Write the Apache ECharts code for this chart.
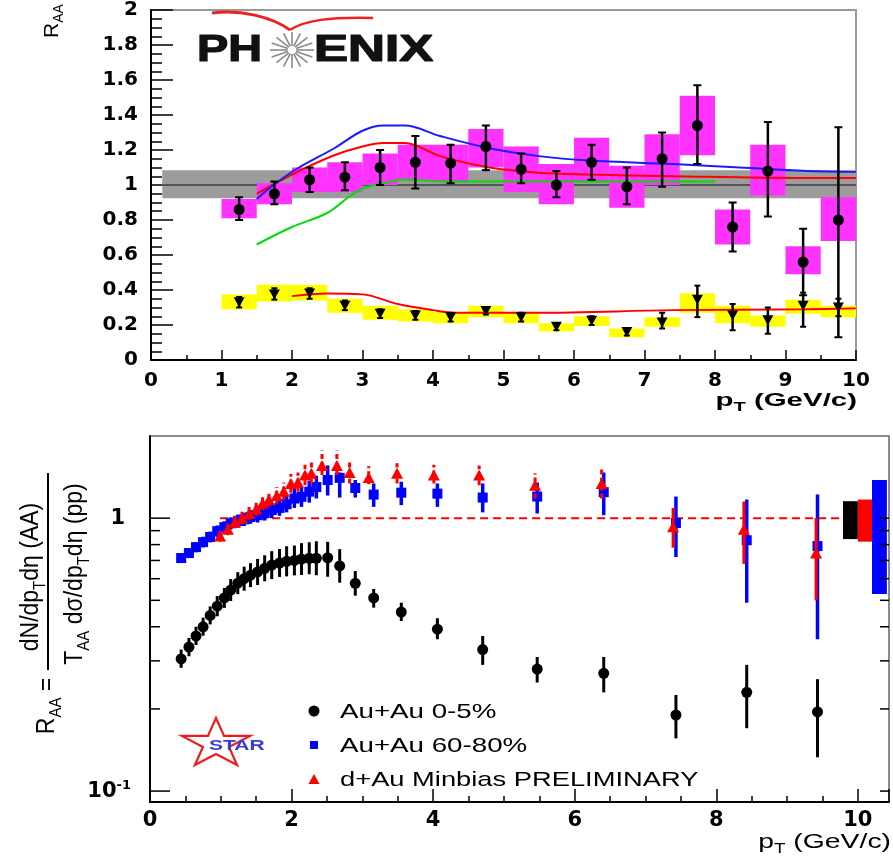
<!DOCTYPE html>
<html>
<head>
<meta charset="utf-8">
<script src="https://cdn.jsdelivr.net/npm/echarts@6/dist/echarts.min.js"></script>
<style>
  html, body { margin: 0; padding: 0; background: #fff; }
  #chart { width: 893px; height: 865px; }
</style>
</head>
<body>
<div id="chart"></div>
<script>
// ================= PHENIX panel: R_AA vs pT (linear) =================
const phxPt = [1.25, 1.75, 2.25, 2.75, 3.25, 3.75, 4.25, 4.75, 5.25, 5.75, 6.25, 6.75, 7.25, 7.75, 8.25, 8.75, 9.25, 9.75];
const phxBinHalf = 0.25;

// upper set (circles, magenta systematic boxes)
const phxHiVal   = [0.86, 0.95, 1.03, 1.045, 1.10, 1.13, 1.125, 1.22, 1.09, 1.00, 1.13, 0.99, 1.15, 1.34, 0.76, 1.08, 0.56, 0.80];
const phxHiErrLo = [0.80, 0.89, 0.96, 0.97, 1.00, 0.98, 1.01, 1.085, 1.01, 0.93, 1.03, 0.89, 0.99, 1.12, 0.62, 0.82, 0.37, 0.13];
const phxHiErrUp = [0.93, 1.02, 1.10, 1.13, 1.20, 1.28, 1.23, 1.34, 1.18, 1.08, 1.23, 1.10, 1.30, 1.57, 0.90, 1.36, 0.75, 1.33];
const phxHiSysLo = [0.81, 0.89, 0.96, 0.96, 1.00, 1.03, 1.02, 1.10, 0.96, 0.89, 1.02, 0.87, 1.00, 1.17, 0.66, 0.94, 0.49, 0.68];
const phxHiSysUp = [0.92, 1.01, 1.10, 1.13, 1.18, 1.23, 1.23, 1.32, 1.22, 1.12, 1.27, 1.11, 1.29, 1.51, 0.86, 1.23, 0.65, 0.93];

// lower set (down triangles, yellow systematic boxes)
const phxLoVal   = [0.33, 0.375, 0.38, 0.31, 0.265, 0.255, 0.245, 0.28, 0.245, 0.19, 0.225, 0.16, 0.215, 0.345, 0.255, 0.227, 0.31, 0.30];
const phxLoErrLo = [0.30, 0.345, 0.35, 0.285, 0.24, 0.23, 0.22, 0.26, 0.22, 0.17, 0.20, 0.14, 0.18, 0.245, 0.17, 0.15, 0.19, 0.25];
const phxLoErrUp = [0.36, 0.41, 0.41, 0.34, 0.29, 0.28, 0.27, 0.30, 0.27, 0.21, 0.25, 0.18, 0.27, 0.425, 0.32, 0.30, 0.385, 0.35];
const phxLoSysLo = [0.29, 0.335, 0.34, 0.27, 0.23, 0.22, 0.21, 0.245, 0.21, 0.165, 0.195, 0.13, 0.19, 0.27, 0.21, 0.19, 0.265, 0.245];
const phxLoSysUp = [0.375, 0.43, 0.43, 0.35, 0.31, 0.29, 0.275, 0.31, 0.275, 0.21, 0.25, 0.18, 0.245, 0.38, 0.31, 0.255, 0.345, 0.31];

// normalisation band around unity
const phxBandX = [0.16, 10];
const phxBandY = [0.925, 1.085];

// model curves
const curveBluePt  = [1.5, 1.77, 2.1, 2.6, 3.0, 3.3, 3.6, 4.1, 4.8, 5.5, 6.2, 7.4, 8.35, 9.3, 10];
const curveBlueVal = [0.92, 1.01, 1.10, 1.21, 1.31, 1.34, 1.34, 1.28, 1.21, 1.165, 1.14, 1.12, 1.10, 1.08, 1.075];
const curveRedPt   = [1.5, 1.77, 2.1, 2.6, 3.0, 3.3, 3.6, 4.1, 4.8, 5.5, 6.2, 7.4, 9.3, 10];
const curveRedVal  = [0.95, 1.01, 1.08, 1.17, 1.22, 1.24, 1.24, 1.165, 1.10, 1.07, 1.06, 1.05, 1.04, 1.04];
const curveGreenPt  = [1.5, 2.0, 2.5, 2.8, 3.0, 3.3, 3.6, 4.2, 5.0, 6.0, 7.0, 8.0];
const curveGreenVal = [0.66, 0.76, 0.84, 0.93, 0.98, 1.01, 1.03, 1.02, 1.02, 1.02, 1.02, 1.02];
const curveLowPt  = [2.0, 2.5, 3.0, 3.5, 4.0, 4.3, 5.5, 7.4, 9.3, 10];
const curveLowVal = [0.365, 0.38, 0.375, 0.32, 0.285, 0.27, 0.27, 0.285, 0.29, 0.295];

// ================= STAR panel: R_AA vs pT (log) =================
const starPt = [0.44, 0.55, 0.65, 0.75, 0.85, 0.95, 1.05, 1.14, 1.24, 1.33, 1.42, 1.52, 1.62, 1.72, 1.83, 1.93, 2.04, 2.14, 2.25, 2.35, 2.51, 2.68, 2.90, 3.16, 3.55, 4.06, 4.70, 5.47, 6.41, 7.43, 8.43, 9.43];

// Au+Au 0-5%
const central    = [0.305, 0.337, 0.37, 0.40, 0.44, 0.476, 0.51, 0.545, 0.578, 0.60, 0.618, 0.635, 0.655, 0.673, 0.685, 0.695, 0.70, 0.708, 0.713, 0.713, 0.716, 0.668, 0.577, 0.51, 0.453, 0.392, 0.33, 0.28, 0.27, 0.19, 0.23, 0.195];
const centralLo  = [0.283, 0.312, 0.343, 0.371, 0.408, 0.437, 0.469, 0.497, 0.527, 0.542, 0.559, 0.569, 0.587, 0.598, 0.609, 0.612, 0.617, 0.619, 0.623, 0.618, 0.61, 0.58, 0.52, 0.47, 0.42, 0.36, 0.29, 0.25, 0.23, 0.156, 0.17, 0.133];
const centralHi  = [0.33, 0.364, 0.40, 0.432, 0.475, 0.518, 0.555, 0.598, 0.634, 0.664, 0.684, 0.709, 0.731, 0.757, 0.771, 0.789, 0.794, 0.81, 0.816, 0.823, 0.819, 0.77, 0.64, 0.55, 0.49, 0.43, 0.37, 0.31, 0.31, 0.225, 0.29, 0.257];

// Au+Au 60-80%
const peripheral   = [0.714, 0.745, 0.783, 0.817, 0.853, 0.896, 0.927, 0.957, 0.975, 0.99, 1.01, 1.025, 1.043, 1.07, 1.09, 1.125, 1.18, 1.197, 1.25, 1.30, 1.38, 1.405, 1.29, 1.22, 1.24, 1.23, 1.19, 1.20, 1.245, 0.96, 0.83, 0.79];
const peripheralLo = [0.685, 0.714, 0.75, 0.781, 0.815, 0.854, 0.882, 0.909, 0.923, 0.936, 0.953, 0.964, 0.98, 1.0, 1.02, 1.05, 1.09, 1.10, 1.14, 1.18, 1.21, 1.19, 1.19, 1.10, 1.116, 1.10, 1.05, 1.04, 1.025, 0.72, 0.49, 0.36];
const peripheralHi = [0.745, 0.777, 0.817, 0.855, 0.893, 0.94, 0.974, 1.007, 1.03, 1.047, 1.07, 1.09, 1.11, 1.14, 1.165, 1.21, 1.28, 1.30, 1.37, 1.43, 1.56, 1.47, 1.38, 1.34, 1.36, 1.34, 1.34, 1.35, 1.47, 1.20, 1.17, 1.22];

// d+Au minimum bias
const dauPt = [0.99, 1.10, 1.20, 1.30, 1.40, 1.50, 1.59, 1.68, 1.79, 1.89, 1.99, 2.09, 2.19, 2.28, 2.43, 2.64, 2.82, 3.09, 3.49, 4.01, 4.65, 5.44, 6.38, 7.39, 8.39, 9.41];
const dau   = [0.86, 0.91, 0.967, 1.0, 1.04, 1.08, 1.135, 1.17, 1.21, 1.256, 1.34, 1.355, 1.44, 1.46, 1.56, 1.56, 1.47, 1.41, 1.46, 1.44, 1.44, 1.32, 1.34, 0.93, 0.91, 0.745];
const dauLo = [0.82, 0.865, 0.92, 0.95, 0.985, 1.02, 1.07, 1.10, 1.13, 1.17, 1.24, 1.25, 1.32, 1.34, 1.44, 1.44, 1.34, 1.33, 1.34, 1.34, 1.32, 1.18, 1.18, 0.78, 0.68, 0.50];
const dauHi = [0.90, 0.955, 1.02, 1.055, 1.10, 1.145, 1.21, 1.25, 1.30, 1.35, 1.45, 1.47, 1.57, 1.60, 1.77, 1.77, 1.63, 1.55, 1.59, 1.57, 1.56, 1.46, 1.52, 1.09, 1.15, 1.00];

// normalisation uncertainty boxes (0-5%, d+Au, 60-80%)
const normX0 = [9.79, 10.0, 10.2];
const normX1 = [10.0, 10.21, 10.41];
const normLo = [0.838, 0.82, 0.527];
const normHi = [1.154, 1.17, 1.38];

// unity reference line span
const unityPt = [0.99, 9.77];

// log-axis tick values drawn on both frame sides
const logTickVals = [0.1, 0.2, 0.3, 0.4, 0.5, 0.6, 0.7, 0.8, 0.9, 1];

// ================= helpers =================
const BLACK = '#000000', BLUE = '#0000ff', RED = '#ff0000';
const MAGENTA = '#ff33ff', YELLOW = '#ffff00';

function pairs(xs, ys) { return xs.map((x, i) => [x, ys[i]]); }

function boxSeries(grid, xs, lo, hi, half, color, z) {
  return {
    type: 'custom', xAxisIndex: grid, yAxisIndex: grid, z, silent: true,
    data: xs.map((x, i) => [x, lo[i], hi[i]]),
    encode: { x: 0, y: [1, 2] },
    renderItem(params, api) {
      const a = api.coord([api.value(0) - half, api.value(2)]);
      const b = api.coord([api.value(0) + half, api.value(1)]);
      return { type: 'rect', shape: { x: a[0], y: a[1], width: b[0] - a[0], height: b[1] - a[1] },
               style: { fill: color } };
    }
  };
}

function rangeBoxSeries(grid, x0, x1, lo, hi, colors, z) {
  return {
    type: 'custom', xAxisIndex: grid, yAxisIndex: grid, z, silent: true,
    data: x0.map((x, i) => [x, x1[i], lo[i], hi[i]]),
    encode: { x: [0, 1], y: [2, 3] },
    renderItem(params, api) {
      const a = api.coord([api.value(0), api.value(3)]);
      const b = api.coord([api.value(1), api.value(2)]);
      return { type: 'rect', shape: { x: a[0], y: a[1], width: b[0] - a[0], height: b[1] - a[1] },
               style: { fill: colors[params.dataIndex] } };
    }
  };
}

function errSeries(grid, xs, lo, hi, color, width, cap, dashBelow, z) {
  return {
    type: 'custom', xAxisIndex: grid, yAxisIndex: grid, z, silent: true,
    data: xs.map((x, i) => [x, lo[i], hi[i]]),
    encode: { x: 0, y: [1, 2] },
    renderItem(params, api) {
      const x = api.value(0);
      const p1 = api.coord([x, api.value(1)]);
      const p2 = api.coord([x, api.value(2)]);
      const dash = (dashBelow && x < dashBelow) ? [5, 3] : null;
      const st = { stroke: color, lineWidth: width, lineDash: dash };
      const kids = [{ type: 'line', shape: { x1: p1[0], y1: p1[1], x2: p2[0], y2: p2[1] }, style: st }];
      if (cap) {
        kids.push({ type: 'line', shape: { x1: p1[0] - cap, y1: p1[1], x2: p1[0] + cap, y2: p1[1] }, style: { stroke: color, lineWidth: 2 } });
        kids.push({ type: 'line', shape: { x1: p2[0] - cap, y1: p2[1], x2: p2[0] + cap, y2: p2[1] }, style: { stroke: color, lineWidth: 2 } });
      }
      return { type: 'group', children: kids };
    }
  };
}

function curve(xs, ys, color) {
  return {
    type: 'line', xAxisIndex: 0, yAxisIndex: 0, z: 4, silent: true,
    data: pairs(xs, ys), smooth: 0.35, showSymbol: false, symbol: 'none',
    lineStyle: { color, width: 2 }
  };
}

function marks(grid, xs, ys, symbol, size, color, rot, z) {
  return {
    type: 'scatter', xAxisIndex: grid, yAxisIndex: grid, z, silent: true,
    data: pairs(xs, ys), symbol, symbolSize: size, symbolRotate: rot || 0,
    itemStyle: { color, opacity: 1 }
  };
}

const tickFont = { fontFamily: 'DejaVu Sans', fontWeight: 'bold', color: '#000' };
const subRich = (main, weight) => ({
  m: { fontSize: main, lineHeight: Math.round(main * 1.35), fontFamily: 'Liberation Sans', fontWeight: weight, color: '#000', verticalAlign: 'middle' },
  s: { fontSize: Math.round(main * 0.66), lineHeight: Math.round(main * 0.66), fontFamily: 'Liberation Sans', fontWeight: weight, color: '#000', verticalAlign: 'bottom' }
});

// ================= decorations (logos, legend, titles) =================
function starPolygon(cx, cy, R, sx) {
  const pts = [];
  for (let k = 0; k < 10; k++) {
    const r = (k % 2 === 0) ? R : R * 0.382;
    const ang = -Math.PI / 2 + k * Math.PI / 5;
    pts.push([cx + r * Math.cos(ang) * sx, cy + r * Math.sin(ang)]);
  }
  return pts;
}

function starburst(cx, cy) {
  const out = [];
  for (let k = 0; k < 16; k++) {
    const a = k * Math.PI / 8;
    out.push({
      type: 'line', silent: true, z: 20,
      shape: { x1: cx + 4 * Math.cos(a) * 1.1, y1: cy + 4 * Math.sin(a), x2: cx + 20 * Math.cos(a) * 1.1, y2: cy + 18 * Math.sin(a) },
      style: { stroke: '#8a8a8a', lineWidth: 1.6 }
    });
  }
  return out;
}

const legendFont = '21px "Liberation Sans", Arial, sans-serif';

const graphics = [
  // PHENIX logo
  { type: 'bezierCurve', silent: true, z: 20,
    shape: { x1: 212, y1: 13, cpx1: 240, cpy1: 9, cpx2: 272, cpy2: 17, x2: 290, y2: 30 },
    style: { stroke: '#ee2020', lineWidth: 3, fill: null } },
  { type: 'bezierCurve', silent: true, z: 20,
    shape: { x1: 290, y1: 30, cpx1: 305, cpy1: 20, cpx2: 330, cpy2: 17, x2: 373, y2: 18 },
    style: { stroke: '#ee2020', lineWidth: 2.5, fill: null } },
  ...starburst(292, 50),
  { type: 'text', x: 262, y: 51, scaleX: 1.3, silent: true, z: 20,
    style: { text: 'PH', font: 'bold 36px "Liberation Sans", Arial, sans-serif', fill: '#111', align: 'right', verticalAlign: 'middle', stroke: '#111', lineWidth: 1.2 } },
  { type: 'text', x: 314, y: 51, scaleX: 1.42, silent: true, z: 20,
    style: { text: 'ENIX', font: 'bold 36px "Liberation Sans", Arial, sans-serif', fill: '#111', align: 'left', verticalAlign: 'middle', stroke: '#111', lineWidth: 1.2 } },

  // PHENIX axis titles
  { type: 'text', x: 52, y: 21, rotation: Math.PI / 2, silent: true, z: 20,
    style: { text: '{m|R}{s|AA}', rich: subRich(21, 'normal'), align: 'center', verticalAlign: 'middle' } },
  { type: 'text', x: 857, y: 401, scaleX: 1.55, silent: true, z: 20,
    style: { text: '{m|p}{s|T}{m| (GeV/c)}', rich: subRich(19, 'bold'), align: 'right', verticalAlign: 'middle' } },

  // STAR axis titles
  { type: 'text', x: 47, y: 706, rotation: Math.PI / 2, scaleY: 1.15, silent: true, z: 20,
    style: { text: '{m|R}{s|AA}{m| =}', rich: subRich(23, 'normal'), align: 'center', verticalAlign: 'middle' } },
  { type: 'text', x: 31, y: 577, rotation: Math.PI / 2, scaleY: 1.15, silent: true, z: 20,
    style: { text: '{m|dN/dp}{s|T}{m|dη (AA)}', rich: subRich(23, 'normal'), align: 'center', verticalAlign: 'middle' } },
  { type: 'line', silent: true, z: 20, shape: { x1: 48, y1: 473, x2: 48, y2: 670 }, style: { stroke: '#000', lineWidth: 2 } },
  { type: 'text', x: 75, y: 574, rotation: Math.PI / 2, scaleY: 1.15, silent: true, z: 20,
    style: { text: '{m|T}{s|AA}{m| dσ/dp}{s|T}{m|dη (pp)}', rich: subRich(23, 'normal'), align: 'center', verticalAlign: 'middle' } },
  { type: 'text', x: 891, y: 842, scaleX: 1.35, silent: true, z: 20,
    style: { text: '{m|p}{s|T}{m| (GeV/c)}', rich: subRich(21, 'normal'), align: 'right', verticalAlign: 'middle' } },

  // STAR logo
  { type: 'polygon', silent: true, z: 20,
    shape: { points: starPolygon(216, 744, 26, 1.38) },
    style: { fill: null, stroke: '#ee1c1c', lineWidth: 2.2 } },
  { type: 'text', x: 209, y: 746, scaleX: 1.5, silent: true, z: 21,
    style: { text: 'STAR', font: 'bold 14px "Liberation Sans", Arial, sans-serif', fill: '#3a3ad6', align: 'left', verticalAlign: 'middle' } },

  // legend
  { type: 'circle', silent: true, z: 20, shape: { cx: 314, cy: 711, r: 5.5 }, style: { fill: BLACK } },
  { type: 'rect', silent: true, z: 20, shape: { x: 310, y: 741, width: 8, height: 8 }, style: { fill: BLUE } },
  { type: 'polygon', silent: true, z: 20, shape: { points: [[314, 774], [308.5, 784], [319.5, 784]] }, style: { fill: RED } },
  { type: 'text', x: 340, y: 712, scaleX: 1.32, silent: true, z: 20,
    style: { text: 'Au+Au 0-5%', font: legendFont, fill: '#000', align: 'left', verticalAlign: 'middle' } },
  { type: 'text', x: 340, y: 746, scaleX: 1.32, silent: true, z: 20,
    style: { text: 'Au+Au 60-80%', font: legendFont, fill: '#000', align: 'left', verticalAlign: 'middle' } },
  { type: 'text', x: 340, y: 780, scaleX: 1.3, silent: true, z: 20,
    style: { text: 'd+Au Minbias PRELIMINARY', font: legendFont, fill: '#000', align: 'left', verticalAlign: 'middle' } }
];

// ================= option =================
const option = {
  animation: false,
  backgroundColor: '#fff',
  grid: [
    { left: 151, right: 37, top: 7, bottom: 505, show: true, borderColor: '#9a9a9a', borderWidth: 2, backgroundColor: 'transparent' },
    { left: 150, right: 4, top: 436, bottom: 63, show: true, borderColor: '#666', borderWidth: 1.5, backgroundColor: 'transparent' }
  ],
  xAxis: [
    { type: 'value', gridIndex: 0, min: 0, max: 10, interval: 1,
      axisLine: { show: true, onZero: false, lineStyle: { color: '#000', width: 2 } },
      axisTick: { show: true, inside: true, length: 10, lineStyle: { color: '#000', width: 1.5 } },
      minorTick: { show: true, splitNumber: 2, length: 5, lineStyle: { color: '#000', width: 1.5 } },
      splitLine: { show: false },
      axisLabel: Object.assign({ fontSize: 20, margin: 11 }, tickFont) },
    { type: 'value', gridIndex: 1, min: 0, max: 10.44, interval: 2,
      axisLine: { show: true, onZero: false, lineStyle: { color: '#000', width: 2 } },
      axisTick: { show: true, inside: true, length: 13, lineStyle: { color: '#000', width: 1.5 } },
      minorTick: { show: true, splitNumber: 4, length: 6, lineStyle: { color: '#000', width: 1.5 } },
      splitLine: { show: false },
      axisLabel: Object.assign({ fontSize: 21, margin: 8, showMaxLabel: false,
        formatter: v => (Math.abs(v - Math.round(v)) < 1e-6 ? String(Math.round(v)) : '') }, tickFont) }
  ],
  yAxis: [
    { type: 'value', gridIndex: 0, min: 0, max: 2, interval: 0.2,
      axisLine: { show: true, onZero: false, lineStyle: { color: '#000', width: 2 } },
      axisTick: { show: true, inside: true, length: 22, lineStyle: { color: '#000', width: 1.5 } },
      minorTick: { show: true, splitNumber: 4, length: 11, lineStyle: { color: '#000', width: 1.5 } },
      splitLine: { show: false },
      axisLabel: Object.assign({ fontSize: 20, margin: 13 }, tickFont) },
    { type: 'log', gridIndex: 1, logBase: 10, min: 0.0912, max: 2.0,
      axisLine: { show: true, onZero: false, lineStyle: { color: '#000', width: 2 } },
      axisTick: { show: false },
      splitLine: { show: false },
      axisLabel: {
        margin: 19,
        formatter: v => {
          if (Math.abs(v - 1) < 1e-6) return '{one|1}';
          if (Math.abs(v - 0.1) < 1e-7) return '{b|10}{sup|-1}';
          return '';
        },
        rich: {
          one: { fontSize: 21, fontFamily: 'DejaVu Sans', fontWeight: 'bold', color: '#000', padding: [0, 6, 0, 0] },
          b:   { fontSize: 21, fontFamily: 'DejaVu Sans', fontWeight: 'bold', color: '#000', lineHeight: 24, verticalAlign: 'middle' },
          sup: { fontSize: 13, fontFamily: 'DejaVu Sans', fontWeight: 'bold', color: '#000', lineHeight: 14, verticalAlign: 'top', padding: [0, 0, 30, 0] }
        }
      } }
  ],
  graphic: graphics,
  series: [
    // ---- PHENIX ----
    { type: 'custom', xAxisIndex: 0, yAxisIndex: 0, z: 1, silent: true,
      data: [[phxBandX[0], phxBandX[1], phxBandY[0], phxBandY[1]]],
      encode: { x: [0, 1], y: [2, 3] },
      renderItem(params, api) {
        const a = api.coord([api.value(0), api.value(3)]);
        const b = api.coord([api.value(1), api.value(2)]);
        const m = api.coord([api.value(0), 1]);
        return { type: 'group', children: [
          { type: 'rect', shape: { x: a[0], y: a[1], width: b[0] - a[0], height: b[1] - a[1] }, style: { fill: '#9c9c9c' } },
          { type: 'line', shape: { x1: a[0], y1: m[1], x2: b[0], y2: m[1] }, style: { stroke: '#3c3c3c', lineWidth: 1.5 } }
        ] };
      } },
    boxSeries(0, phxPt, phxHiSysLo, phxHiSysUp, phxBinHalf, MAGENTA, 2),
    boxSeries(0, phxPt, phxLoSysLo, phxLoSysUp, phxBinHalf, YELLOW, 2),
    curve(curveGreenPt, curveGreenVal, '#00dd00'),
    curve(curveRedPt, curveRedVal, RED),
    curve(curveBluePt, curveBlueVal, '#1a1aff'),
    curve(curveLowPt, curveLowVal, RED),
    errSeries(0, phxPt, phxHiErrLo, phxHiErrUp, BLACK, 2.5, 4, 0, 6),
    errSeries(0, phxPt, phxLoErrLo, phxLoErrUp, BLACK, 2.5, 3, 0, 6),
    marks(0, phxPt, phxHiVal, 'circle', 11, BLACK, 0, 7),
    marks(0, phxPt, phxLoVal, 'triangle', [11, 10], BLACK, 180, 7),

    // ---- STAR ----
    rangeBoxSeries(1, normX0, normX1, normLo, normHi, [BLACK, RED, BLUE], 2),
    { type: 'line', xAxisIndex: 1, yAxisIndex: 1, z: 3, silent: true,
      data: [[unityPt[0], 1], [unityPt[1], 1]], showSymbol: false, symbol: 'none',
      lineStyle: { color: RED, width: 2, type: [8, 5] } },
    { type: 'custom', xAxisIndex: 1, yAxisIndex: 1, z: 9, silent: true,
      data: logTickVals.map(v => [1, v]),
      encode: { x: 0, y: 1 },
      renderItem(params, api) {
        const cs = params.coordSys;
        const v = api.value(1);
        const y = api.coord([1, v])[1];
        const major = Math.abs(Math.log10(v) - Math.round(Math.log10(v))) < 1e-6;
        const st = { stroke: '#000', lineWidth: 1.5 };
        return { type: 'group', children: [
          { type: 'line', shape: { x1: cs.x, y1: y, x2: cs.x + (major ? 20 : 10), y2: y }, style: st },
          { type: 'line', shape: { x1: cs.x + cs.width - 9, y1: y, x2: cs.x + cs.width, y2: y }, style: st }
        ] };
      } },
    errSeries(1, starPt, centralLo, centralHi, BLACK, 3, 0, 0, 5),
    marks(1, starPt, central, 'circle', 11, BLACK, 0, 6),
    errSeries(1, starPt, peripheralLo, peripheralHi, BLUE, 3.5, 0, 0, 5),
    marks(1, starPt, peripheral, 'rect', 10, BLUE, 0, 6),
    errSeries(1, dauPt, dauLo, dauHi, RED, 3, 0, 7, 7),
    marks(1, dauPt, dau, 'triangle', [12, 11], RED, 0, 8)
  ]
};

const chart = echarts.init(document.getElementById('chart'));
chart.setOption(option);
</script>
</body>
</html>
